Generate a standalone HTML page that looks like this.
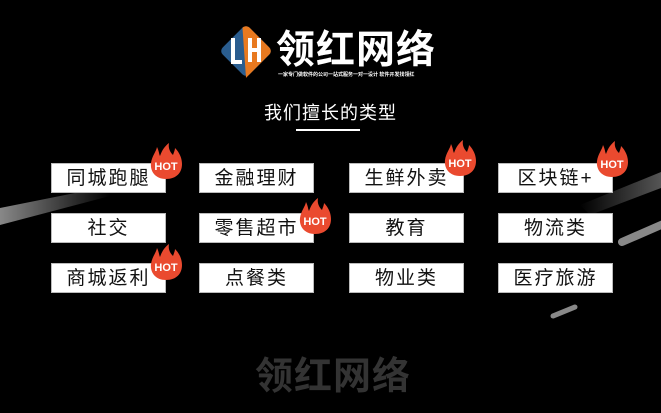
<!DOCTYPE html>
<html><head><meta charset="utf-8"><style>
*{margin:0;padding:0;box-sizing:border-box}
body{width:661px;height:413px;background:#000;position:relative;overflow:hidden;font-family:"Liberation Sans","Noto Sans CJK SC",sans-serif}
.a{position:absolute}
.box{position:absolute;width:115px;height:30px;background:#fff;border:1px solid #bbb;color:#111;font-size:19px;text-align:center;line-height:29px;letter-spacing:2px}
.hot{position:absolute;width:32px;height:36px}
</style></head><body>
<svg class="a" style="left:0;top:0" width="661" height="413">
<defs>
<linearGradient id="g1" x1="0" x2="1"><stop offset="0" stop-color="#888"/><stop offset="1" stop-color="#000"/></linearGradient>
<linearGradient id="g2" x1="1" x2="0"><stop offset="0" stop-color="#555"/><stop offset="1" stop-color="#000"/></linearGradient>
</defs>
<polygon points="0,208 110,186 110,196 0,225" fill="url(#g1)"/>
<polygon points="580,205 661,172 661,188 590,215" fill="url(#g2)"/>
<line x1="622" y1="242" x2="668" y2="222" stroke="#888" stroke-width="8" stroke-linecap="round"/>
<line x1="553" y1="316" x2="575" y2="307" stroke="#888" stroke-width="5" stroke-linecap="round"/>
<g transform="translate(246,51) rotate(45)">
<rect x="-19" y="-19" width="38" height="38" rx="5" fill="#2a5d8f"/>
<path d="M-19,-14 a5,5 0 0 1 5,-5 H14 a5,5 0 0 1 5,5 V19 Z" fill="#e8791f"/>
</g>
<path d="M233,38 v24 h9 M250,38 v24 M250,50 h9 M259,38 v24" stroke="#fff" stroke-width="4" fill="none"/>
<line x1="296" y1="130" x2="360" y2="130" stroke="#fff" stroke-width="2"/>
</svg>
<div class="a" style="left:276px;top:19px;font-size:39px;font-weight:bold;color:#fff;letter-spacing:1px">领红网络</div>
<div class="a" style="left:278px;top:71px;font-size:5px;color:#fff;font-weight:bold;white-space:nowrap">一家专门做软件的公司一站式服务一对一设计 软件开发找领红</div>
<div class="a" style="left:0;width:661px;top:99px;text-align:center;font-size:18px;color:#fff;letter-spacing:1px">我们擅长的类型</div>
<div class="a" style="left:255px;top:345px;font-size:38px;font-weight:bold;color:#333;letter-spacing:1px">领红网络</div>

<div class="box" style="left:51px;top:163px">同城跑腿</div>
<div class="box" style="left:199px;top:163px">金融理财</div>
<div class="box" style="left:349px;top:163px">生鲜外卖</div>
<div class="box" style="left:498px;top:163px">区块链+</div>
<div class="box" style="left:51px;top:213px">社交</div>
<div class="box" style="left:199px;top:213px">零售超市</div>
<div class="box" style="left:349px;top:213px">教育</div>
<div class="box" style="left:498px;top:213px">物流类</div>
<div class="box" style="left:51px;top:263px">商城返利</div>
<div class="box" style="left:199px;top:263px">点餐类</div>
<div class="box" style="left:349px;top:263px">物业类</div>
<div class="box" style="left:498px;top:263px">医疗旅游</div>

<svg width="0" height="0" style="position:absolute"><defs><g id="hot">
<path d="M16,36 C5,36 0,28 1,20 C2,13 6,9 7,4 C9,8 9,11 10,13 C12,7 15,3 19,0 C18,5 20,9 23,12 C24,9 25,7 25,5 C30,10 32,16 32,21 C32,30 26,36 16,36 Z" fill="#ea4a2f"/>
<text x="16" y="27" font-family="Liberation Sans" font-weight="bold" font-size="11" fill="#fff" text-anchor="middle">HOT</text>
</g></defs></svg>
<svg class="hot" style="left:150px;top:143px"><use href="#hot"/></svg>
<svg class="hot" style="left:299px;top:198px"><use href="#hot"/></svg>
<svg class="hot" style="left:150px;top:244px"><use href="#hot"/></svg>
<svg class="hot" style="left:444px;top:140px"><use href="#hot"/></svg>
<svg class="hot" style="left:596px;top:141px"><use href="#hot"/></svg>
</body></html>
